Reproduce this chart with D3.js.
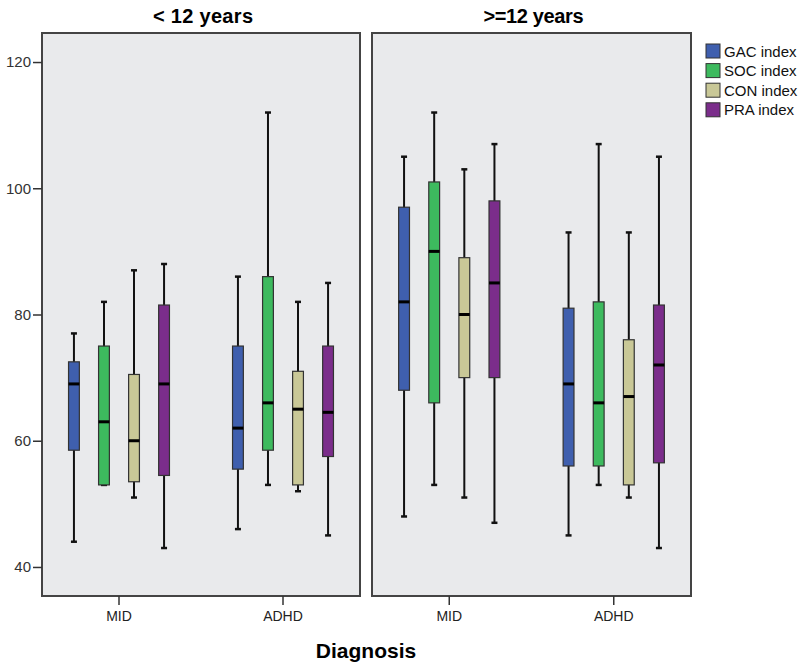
<!DOCTYPE html>
<html>
<head>
<meta charset="utf-8">
<script src="https://cdn.jsdelivr.net/npm/d3@7"></script>
<style>
  body { margin: 0; background: #fff; }
  text { font-family: "Liberation Sans", Arial, sans-serif; }
</style>
</head>
<body>
<div id="chart"></div>
<script>
// categories
const ageGroups = ["< 12 years", ">=12 years"];
const diagnoses = ["MID", "ADHD"];
const indices = ["GAC index", "SOC index", "CON index", "PRA index"];
const yTicks = [40, 60, 80, 100, 120];

// [min, q1, median, q3, max] per index (GAC, SOC, CON, PRA)
const under12MID  = [[44, 58.5, 69, 72.5, 77], [53, 53, 63, 75, 82], [51, 53.5, 60, 70.5, 87], [43, 54.5, 69, 81.5, 88]];
const under12ADHD = [[46, 55.5, 62, 75, 86], [53, 58.5, 66, 86, 112], [52, 53, 65, 71, 82], [45, 57.5, 64.5, 75, 85]];
const over12MID   = [[48, 68, 82, 97, 105], [53, 66, 90, 101, 112], [51, 70, 80, 89, 103], [47, 70, 85, 98, 107]];
const over12ADHD  = [[45, 56, 69, 81, 93], [53, 56, 66, 82, 107], [51, 53, 67, 76, 93], [43, 56.5, 72, 81.5, 105]];

const colors = ["#3f5fae", "#3dba5e", "#c9c897", "#7b2d8b"];

const panelData = [
  { title: ageGroups[0], groups: { MID: under12MID, ADHD: under12ADHD } },
  { title: ageGroups[1], groups: { MID: over12MID, ADHD: over12ADHD } }
];

function drawChart() {
  const width = 803;
  const height = 664;
  const top = 33, bottom = 596;
  const panelX = [[42, 360], [372, 691]];

  const svg = d3.select("#chart")
                .append("svg")
                .attr("width", width)
                .attr("height", height);

  const y = d3.scaleLinear()
              .domain([35.4, 124.6])
              .range([bottom, top]);

  const color = d3.scaleOrdinal().domain(indices).range(colors);

  panelData.forEach((p, i) => {
    const [x0, x1] = panelX[i];
    const g = svg.append("g");

    g.append("rect")
     .attr("x", x0).attr("y", top)
     .attr("width", x1 - x0).attr("height", bottom - top)
     .attr("fill", "#e9eaec")
     .attr("stroke", "#444").attr("stroke-width", 2);

    g.append("text")
     .attr("x", (x0 + x1) / 2 + 2).attr("y", 23)
     .attr("text-anchor", "middle")
     .style("font-weight", "bold").style("font-size", "20px")
     .attr("textLength", i === 0 ? 100 : 100)
     .text(p.title);

    // groups sit slightly wider than the frame
    const x = d3.scaleBand().domain(diagnoses).range([x0 - 5, x1 + 5]);
    const inner = d3.scaleBand().domain(indices)
                    .range([0, x.bandwidth()])
                    .paddingInner(0.64).paddingOuter(1.05);

    // x axis
    const xAxis = g.append("g")
     .attr("transform", `translate(0, ${bottom})`)
     .call(d3.axisBottom(x).tickSizeOuter(0).tickSize(9).tickPadding(6));
    xAxis.select(".domain").remove();
    xAxis.selectAll("line").attr("stroke", "#333").attr("stroke-width", 1.5);
    xAxis.selectAll("text")
         .style("font-size", "14px").attr("fill", "#222");

    diagnoses.forEach(dg => {
      p.groups[dg].forEach((s, k) => {
        const cx = x(dg) + inner(indices[k]) + inner.bandwidth() / 2;
        const bw = inner.bandwidth();
        const bg = g.append("g");
        // whiskers
        bg.append("line")
          .attr("x1", cx).attr("x2", cx)
          .attr("y1", y(s[0])).attr("y2", y(s[4]))
          .attr("stroke", "#111").attr("stroke-width", 2);
        [s[0], s[4]].forEach(v => {
          bg.append("line")
            .attr("x1", cx - 3).attr("x2", cx + 3)
            .attr("y1", y(v)).attr("y2", y(v))
            .attr("stroke", "#111").attr("stroke-width", 2.5);
        });
        // box
        bg.append("rect")
          .attr("x", cx - bw / 2).attr("width", bw)
          .attr("y", y(s[3])).attr("height", y(s[1]) - y(s[3]))
          .attr("fill", color(indices[k]))
          .attr("stroke", "#333").attr("stroke-width", 1.2);
        // median
        bg.append("line")
          .attr("x1", cx - bw / 2).attr("x2", cx + bw / 2)
          .attr("y1", y(s[2])).attr("y2", y(s[2]))
          .attr("stroke", "#000").attr("stroke-width", 3);
      });
    });
  });

  // y axis
  const yAxis = svg.append("g")
     .attr("transform", `translate(${panelX[0][0]}, 0)`)
     .call(d3.axisLeft(y).tickValues(yTicks).tickSize(9).tickPadding(2));
  yAxis.select(".domain").remove();
  yAxis.selectAll("line").attr("stroke", "#333").attr("stroke-width", 1.5);
  yAxis.selectAll("text").style("font-size", "15px").attr("fill", "#333");

  // x title
  svg.append("text")
     .attr("x", 366).attr("y", 658)
     .attr("text-anchor", "middle")
     .style("font-weight", "bold").style("font-size", "21px")
     .text("Diagnosis");

  // legend
  const legend = svg.append("g")
     .selectAll("g")
     .data(indices)
     .enter()
     .append("g")
     .attr("transform", (d, i) => `translate(706, ${44 + i * 19.6})`);
  legend.append("rect")
     .attr("width", 14).attr("height", 14)
     .attr("fill", d => color(d))
     .attr("stroke", "#333").attr("stroke-width", 1);
  legend.append("text")
     .attr("x", 18).attr("y", 12.5)
     .style("font-size", "15px").attr("fill", "#111")
     .text(d => d);
}

drawChart();
</script>
</body>
</html>
